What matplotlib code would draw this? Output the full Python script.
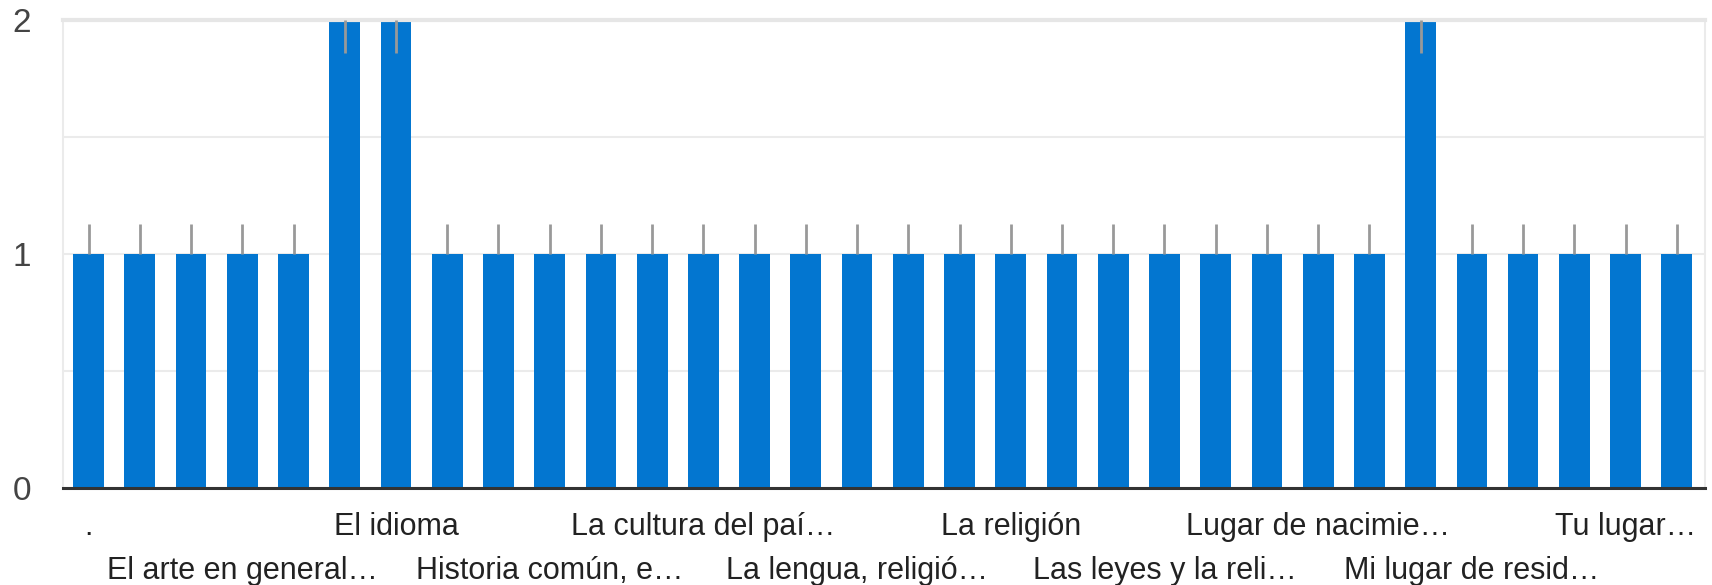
import matplotlib.pyplot as plt
from matplotlib.ticker import FixedLocator, FixedFormatter

# 32 answers, only every third one gets a label on the axis
counts = [1, 1, 1, 1, 1, 2, 2, 1, 1, 1, 1, 1, 1, 1, 1, 1,
          1, 1, 1, 1, 1, 1, 1, 1, 1, 1, 2, 1, 1, 1, 1, 1]
err_low = [0, 0, 0, 0, 0, 0.14, 0.14, 0, 0, 0, 0, 0, 0, 0, 0, 0,
           0, 0, 0, 0, 0, 0, 0, 0, 0, 0, 0.14, 0, 0, 0, 0, 0]
err_high = [0.13, 0.13, 0.13, 0.13, 0.13, 0, 0, 0.13, 0.13, 0.13, 0.13, 0.13, 0.13, 0.13, 0.13, 0.13,
            0.13, 0.13, 0.13, 0.13, 0.13, 0.13, 0.13, 0.13, 0.13, 0.13, 0, 0.13, 0.13, 0.13, 0.13, 0.13]
tick_labels = [".", "El arte en general…", "El idioma", "Historia común, e…",
               "La cultura del paí…", "La lengua, religió…", "La religión",
               "Las leyes y la reli…", "Lugar de nacimie…", "Mi lugar de resid…",
               "Tu lugar…"]
label_step = 3
y_ticks = [0, 1, 2]

plt.rcParams['font.family'] = ['Liberation Sans', 'DejaVu Sans']

fig = plt.figure(figsize=(17.12, 5.85), dpi=100)
ax = fig.add_axes([0.0368, 0.1658, 0.9591, 0.8])

x = list(range(len(counts)))
ax.bar(x, counts, width=0.6, color='#0376d0', zorder=2)
ax.errorbar(x, counts, yerr=[err_low, err_high], fmt='none', ecolor='#999999',
            elinewidth=2, capsize=0, zorder=3)

ax.set_xlim(-0.5, len(counts) - 0.45)
ax.set_ylim(0, 2)

ax.set_yticks(y_ticks)
ax.set_yticklabels([str(v) for v in y_ticks])
ax.set_yticks([0.5, 1.5], minor=True)
ax.yaxis.grid(True, which='both', color='#ebebeb', linewidth=1.5, zorder=0)
ax.tick_params(axis='y', which='both', length=0, pad=23, labelsize=24, labelcolor='#444444')

# labelled ticks alternate between two rows
pos = list(range(0, len(counts), label_step))
row1 = pos[0::2]
row2 = pos[1::2]
ax.xaxis.set_major_locator(FixedLocator(row1))
ax.xaxis.set_major_formatter(FixedFormatter(tick_labels[0::2]))
ax.xaxis.set_minor_locator(FixedLocator(row2))
ax.xaxis.set_minor_formatter(FixedFormatter(tick_labels[1::2]))
ax.tick_params(axis='x', which='major', length=0, pad=17, labelsize=22, labelcolor='#222222')
ax.tick_params(axis='x', which='minor', length=0, pad=49, labelsize=22, labelcolor='#222222')

for side in ['left', 'right']:
    ax.spines[side].set_color('#ebebeb')
    ax.spines[side].set_linewidth(1.5)
ax.spines['top'].set_color('#e6e6e6')
ax.spines['top'].set_linewidth(3)
ax.spines['bottom'].set_color('#333333')
ax.spines['bottom'].set_linewidth(2.2)
ax.spines['bottom'].set_zorder(4)

fig.savefig('out.png', dpi=100)
